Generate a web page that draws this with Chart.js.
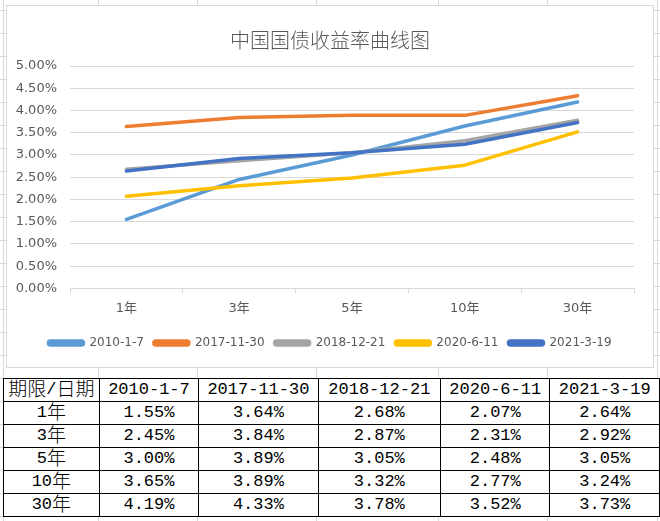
<!DOCTYPE html>
<html>
<head>
<meta charset="utf-8">
<script src="https://cdn.jsdelivr.net/npm/chart.js"></script>
<style>
  body { margin: 0; background: #fff; }
  #sheet {
    position: relative; width: 660px; height: 521px; overflow: hidden;
    background-image: repeating-linear-gradient(to bottom, transparent 0, transparent 9px, #d9d9d9 9px, #d9d9d9 10px, transparent 10px, transparent 23px);
    background-size: 100% 23px;
    background-position: 0 1px;
  }
  .col { position: absolute; top: 0; width: 1px; height: 521px; background: #d9d9d9; }
  #box {
    position: absolute; left: 6px; top: 5px; width: 646px; height: 361px;
    background: #fff; border: 1px solid #d9d9d9;
  }
  #tbl {
    position: absolute; left: 3px; top: 378px; border-collapse: collapse; background: #fff;
    font-family: "Liberation Mono", "Noto Sans CJK SC", monospace; font-size: 17px; color: #000;
  }
  #tbl td { border: 1px solid #000; height: 22px; padding: 0; text-align: center; line-height: 22px; white-space: nowrap; }
  #tbl .cjk { font-family: "Noto Sans CJK SC", sans-serif; font-size: 19px; font-weight: 300; line-height: 1px; position: relative; top: 2px; }
</style>
</head>
<body>
<div id="sheet">
  <div class="col" style="left:3px"></div>
  <div class="col" style="left:98px"></div>
  <div class="col" style="left:197px"></div>
  <div class="col" style="left:316px"></div>
  <div class="col" style="left:438px"></div>
  <div class="col" style="left:547px"></div>
  <div class="col" style="left:657px"></div>
  <div id="box"><canvas id="grafik" width="646" height="361"></canvas></div>
  <table id="tbl"></table>
</div>
<script>
const labels = ['1年', '3年', '5年', '10年', '30年'];
const dates = ['2010-1-7', '2017-11-30', '2018-12-21', '2020-6-11', '2021-3-19'];

const y2010 = [1.55, 2.45, 3.00, 3.65, 4.19];
const y2017 = [3.64, 3.84, 3.89, 3.89, 4.33];
const y2018 = [2.68, 2.87, 3.05, 3.32, 3.78];
const y2020 = [2.07, 2.31, 2.48, 2.77, 3.52];
const y2021 = [2.64, 2.92, 3.05, 3.24, 3.73];

const colors = ['#5b9bd5', '#ed7d31', '#a5a5a5', '#ffc000', '#4472c4'];
const series = [y2010, y2017, y2018, y2020, y2021];

// table under the chart
function cjk(t) { return t.replace(/[\u4e00-\u9fff]+/g, function(m) { return '<span class="cjk">' + m + '</span>'; }); }

const colW = [95, 99, 119, 122, 109, 109];
let html = '<tr>';
html += '<td style="width:' + colW[0] + 'px">' + cjk('期限/日期') + '</td>';
dates.forEach(function(d, j) { html += '<td style="width:' + colW[j + 1] + 'px">' + d + '</td>'; });
html += '</tr>';
labels.forEach(function(l, i)
{
    html += '<tr><td>' + cjk(l) + '</td>';
    series.forEach(function(s) { html += '<td>' + s[i].toFixed(2) + '%</td>'; });
    html += '</tr>';
});
document.getElementById('tbl').innerHTML = html;

const tickFont = { family: '"DejaVu Sans", "Noto Sans CJK SC", sans-serif', size: 13 };
const legendFont = { family: '"DejaVu Sans", "Noto Sans CJK SC", sans-serif', size: 12 };

const data =
{
    labels: labels,
    datasets: series.map(function(s, i)
    {
        return {
            label: dates[i],
            data: s,
            borderColor: colors[i],
            backgroundColor: colors[i],
            borderWidth: 3.5,
            pointRadius: 0,
            borderCapStyle: 'round',
            borderJoinStyle: 'round',
            tension: 0,
            order: 5 - i
        };
    })
};

new Chart(document.getElementById('grafik'),
{
    type: 'line',
    data: data,
    options: {
        responsive: false,
        animation: false,
        layout: { padding: { top: 22, left: 9, right: 9, bottom: 8 } },
        plugins: {
            title: {
                display: true,
                text: '中国国债收益率曲线图',
                color: '#595959',
                font: { family: '"Noto Sans CJK SC", sans-serif', size: 20, weight: 300 },
                padding: { top: 0, bottom: 14 }
            },
            legend: {
                position: 'bottom',
                labels: {
                    color: '#595959',
                    font: legendFont,
                    boxWidth: 35,
                    boxHeight: 4,
                    padding: 10,
                    useBorderRadius: true,
                    borderRadius: 2,
                    sort: function(a, b) { return a.datasetIndex - b.datasetIndex; }
                }
            },
            tooltip: { enabled: false }
        },
        scales: {
            x: {
                offset: true,
                grid: { offset: true, drawOnChartArea: false, drawTicks: true, tickLength: 5, color: '#d9d9d9' },
                border: { display: true, color: '#d9d9d9' },
                ticks: { color: '#595959', font: tickFont, padding: 7 },
                afterFit: function(s) { s.height += 4; }
            },
            y: {
                min: 0,
                max: 5,
                ticks: {
                    stepSize: 0.5,
                    color: '#595959',
                    font: tickFont,
                    padding: 13,
                    callback: function(v) { return v.toFixed(2) + '%'; }
                },
                grid: { color: '#d9d9d9', drawTicks: false },
                border: { display: false },
                afterFit: function(s) { s.width = 54; }
            },
            // empty spacer on the right
            y2: {
                position: 'right',
                grid: { display: false },
                ticks: { display: false },
                border: { display: false },
                afterFit: function(s) { s.width = 10; }
            }
        }
    }
});
</script>
</body>
</html>
